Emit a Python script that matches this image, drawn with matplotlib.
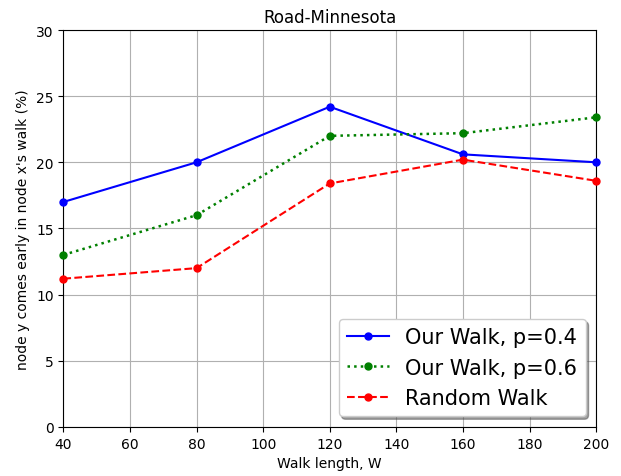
import matplotlib
matplotlib.use('Agg')
import matplotlib.pyplot as plt

# Datos
longitudes = [40, 80, 120, 160, 200]
walk_p04 = [17.0, 20.0, 24.2, 20.6, 20.0]
walk_p06 = [13.0, 16.0, 22.0, 22.2, 23.4]
random_walk = [11.2, 12.0, 18.4, 20.2, 18.6]

fig, ax = plt.subplots(figsize=(6.21, 4.77), dpi=100)

ax.plot(longitudes, walk_p04, 'b-', marker='o', markersize=5, label='Our Walk, p=0.4', clip_on=False, zorder=3)
ax.plot(longitudes, walk_p06, 'g:', marker='o', markersize=5, linewidth=1.8, label='Our Walk, p=0.6', clip_on=False, zorder=3)
ax.plot(longitudes, random_walk, 'r--', marker='o', markersize=5, label='Random Walk', clip_on=False, zorder=3)

ax.set_xlim(40, 200)
ax.set_ylim(0, 30)
ax.set_xticks(range(40, 201, 20))
ax.set_yticks(range(0, 31, 5))
ax.grid(True, color='#b0b0b0')
ax.set_axisbelow(True)

ax.set_title('Road-Minnesota')
ax.set_xlabel('Walk length, W')
ax.set_ylabel("node y comes early in node x's walk (%)")
ax.legend(loc='lower right', fontsize=15, shadow=True, fancybox=True)

plt.subplots_adjust(left=0.102, right=0.96, top=0.935, bottom=0.103)
plt.savefig('out.png', dpi=100)
